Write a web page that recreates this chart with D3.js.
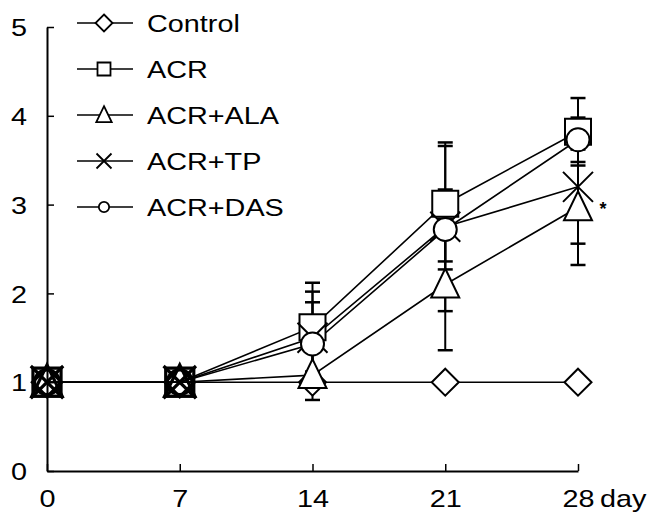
<!DOCTYPE html>
<html><head><meta charset="utf-8">
<script src="https://cdn.jsdelivr.net/npm/d3@7"></script>
<style>
html,body{margin:0;padding:0;background:#fff;}
svg{display:block;}
</style></head>
<body>
<svg id="chart" width="652" height="517"></svg>
<script>
// ---- data ----
const days = [0, 7, 14, 21, 28];
const seriesNames = ["Control", "ACR", "ACR+ALA", "ACR+TP", "ACR+DAS"];
const controlValues = [1, 1, 1, 1, 1];
const controlErrors = [0, 0, 0, 0, 0];
const acrValues = [1, 1, 1.62, 3.01, 3.82];
const acrErrors = [0, 0, 0.50, 0.65, 0.38];
const alaValues = [1, 1, 1.08, 2.10, 2.97];
const alaErrors = [0, 0, 0.28, 0.74, 0.65];
const tpValues = [1, 1, 1.50, 2.75, 3.20];
const tpErrors = [0, 0, 0.52, 0.95, 0.64];
const dasValues = [1, 1, 1.43, 2.72, 3.73];
const dasErrors = [0, 0, 0.47, 0.45, 0.25];
const yTicks = [0, 1, 2, 3, 4, 5];
const xTicks = [0, 7, 14, 21, 28];
const xUnit = "day";
const markerTypes = ["diamond", "square", "triangle", "cross", "circle"];

const seriesValues = [controlValues, acrValues, alaValues, tpValues, dasValues];
const seriesErrors = [controlErrors, acrErrors, alaErrors, tpErrors, dasErrors];

// ---- layout ----
const svg = d3.select("#chart");
const x = d3.scaleLinear().domain([0, 28]).range([47, 578]);
const y = d3.scaleLinear().domain([0, 5]).range([471, 27]);
const FONT = "'Liberation Sans', Arial, sans-serif";
const SX = 1.2;

function markerPath(type, s) {
  const p = d3.path();
  if (type === "diamond") {
    const r = 13.5 * s;
    p.moveTo(0, -r); p.lineTo(r, 0); p.lineTo(0, r); p.lineTo(-r, 0); p.closePath();
  } else if (type === "square") {
    const r = 13 * s;
    p.rect(-r, -r, 2 * r, 2 * r);
  } else if (type === "triangle") {
    p.moveTo(0, -16 * s); p.lineTo(14 * s, 13 * s); p.lineTo(-14 * s, 13 * s); p.closePath();
  } else if (type === "cross") {
    const r = 15 * s;
    p.moveTo(-r, -r); p.lineTo(r, r); p.moveTo(r, -r); p.lineTo(-r, r);
  } else if (type === "circle") {
    const r = 11.5 * s;
    p.moveTo(r, 0); p.arc(0, 0, r, 0, 2 * Math.PI);
  }
  return p.toString();
}

const series = seriesNames.map((name, i) => ({
  name, type: markerTypes[i],
  points: days.map((d, j) => ({ day: d, v: seriesValues[i][j], e: seriesErrors[i][j] }))
}));

// axes
const yAxis = d3.axisLeft(y).tickValues(yTicks).tickFormat(d3.format("d"))
  .tickSizeInner(-7).tickSizeOuter(0).tickPadding(20);
const gy = svg.append("g").attr("transform", `translate(${x(0)},0)`).call(yAxis);
gy.select(".domain").attr("stroke", "#000").attr("stroke-width", 2);
gy.selectAll(".tick line").attr("stroke", "#000").attr("stroke-width", 1.5);
gy.selectAll(".tick text")
  .attr("x", null).attr("dy", "0.36em")
  .attr("transform", `translate(-20,0) scale(${SX},1)`)
  .attr("font-family", FONT).attr("font-size", 24).attr("fill", "#000")
  .attr("text-anchor", "end");

const xAxis = d3.axisBottom(x).tickValues(xTicks).tickFormat(d3.format("d"))
  .tickSizeInner(-7).tickSizeOuter(0).tickPadding(0);
const gx = svg.append("g").attr("transform", `translate(0,${y(0)})`).call(xAxis);
gx.select(".domain").attr("stroke", "#000").attr("stroke-width", 2);
gx.selectAll(".tick line").attr("stroke", "#000").attr("stroke-width", 1.5);
gx.selectAll(".tick text")
  .attr("y", null).attr("dy", null)
  .attr("transform", `translate(0,36) scale(${SX},1)`)
  .attr("font-family", FONT).attr("font-size", 24).attr("fill", "#000")
  .attr("text-anchor", "middle");
svg.append("text")
  .attr("transform", `translate(600,${y(0) + 36}) scale(${SX},1)`)
  .attr("font-family", FONT).attr("font-size", 24).attr("fill", "#000")
  .text(xUnit);

// lines
const line = d3.line().x(d => x(d.day)).y(d => y(d.v));
svg.append("g").selectAll("path").data(series).join("path")
  .attr("d", d => line(d.points))
  .attr("fill", "none").attr("stroke", "#000").attr("stroke-width", 1.6);

// error bars
const eb = svg.append("g").attr("stroke", "#000").attr("stroke-width", 2);
series.forEach(s => {
  s.points.filter(p => p.e > 0).forEach(p => {
    const cx = x(p.day);
    eb.append("line").attr("x1", cx).attr("x2", cx).attr("y1", y(p.v + p.e)).attr("y2", y(p.v - p.e));
    [p.v + p.e, p.v - p.e].forEach(v => {
      eb.append("line").attr("x1", cx - 7.5).attr("x2", cx + 7.5).attr("y1", y(v)).attr("y2", y(v)).attr("stroke-width", 2.5);
    });
  });
});

// markers
const mk = svg.append("g");
series.forEach(s => {
  s.points.forEach(p => {
    const overlapped = p.day < 14;
    mk.append("path")
      .attr("transform", `translate(${x(p.day)},${y(p.v)})`)
      .attr("d", markerPath(s.type, overlapped ? 1.08 : 1))
      .attr("fill", overlapped || s.type === "cross" ? "none" : "#fff")
      .attr("stroke", "#000").attr("stroke-width", overlapped ? 3.2 : 2);
  });
});

// significance mark
svg.append("text").attr("x", 603).attr("y", 215)
  .attr("font-family", FONT).attr("font-size", 18).attr("font-weight", "bold")
  .attr("text-anchor", "middle").text("*");

// legend
const legendY = [23, 69, 115, 161, 207];
const legendScale = [0.63, 0.5, 0.55, 0.5, 0.45];
const lg = svg.append("g");
series.forEach((s, i) => {
  const g = lg.append("g").attr("transform", `translate(0,${legendY[i]})`);
  g.append("line").attr("x1", 77).attr("x2", 133).attr("y1", 0).attr("y2", 0)
    .attr("stroke", "#000").attr("stroke-width", 1.6);
  g.append("path").attr("transform", "translate(104,0)")
    .attr("d", markerPath(s.type, legendScale[i]))
    .attr("fill", s.type === "cross" ? "none" : "#fff")
    .attr("stroke", "#000").attr("stroke-width", 1.8);
  g.append("text")
    .attr("transform", `translate(147,0) scale(${SX},1)`)
    .attr("dy", "0.36em")
    .attr("font-family", FONT).attr("font-size", 24).attr("fill", "#000")
    .text(s.name);
});
</script>
</body></html>
